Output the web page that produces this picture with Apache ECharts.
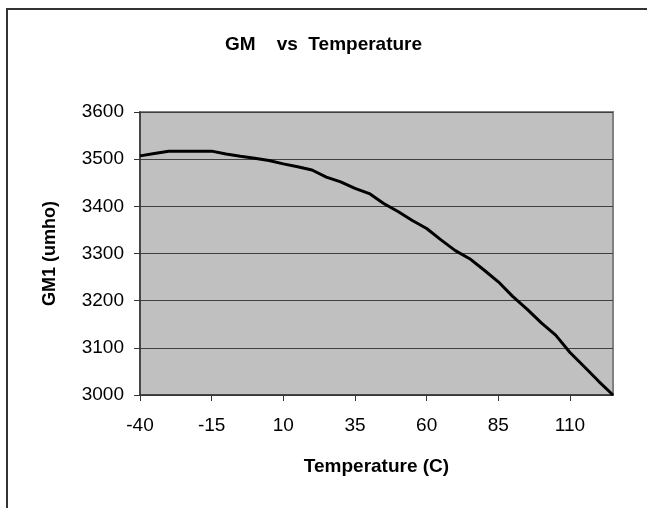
<!DOCTYPE html>
<html>
<head>
<meta charset="utf-8">
<script src="https://cdn.jsdelivr.net/npm/echarts@6/dist/echarts.min.js"></script>
<style>
  html, body { margin: 0; padding: 0; background: #fff; }
  #chart { width: 647px; height: 508px; }
</style>
</head>
<body>
<div id="chart"></div>
<script>
// temperature (C) and GM1 (umho)
var temps = [-40, -35, -30, -25, -20, -15, -10, -5, 0, 5, 10, 15, 20, 25, 30, 35, 40,
             45, 50, 55, 60, 65, 70, 75, 80, 85, 90, 95, 100, 105, 110, 115, 120, 125];
var gm = [3507, 3512, 3517, 3517, 3517, 3517, 3511, 3506, 3502, 3497, 3490, 3484, 3477,
          3462, 3452, 3438, 3427, 3406, 3389, 3370, 3353, 3329, 3306, 3289, 3265, 3240,
          3209, 3182, 3153, 3127, 3090, 3060, 3029, 3000];
var xTicks = [-40, -15, 10, 35, 60, 85, 110];

var font = 'Liberation Sans, Arial, sans-serif';
var myChart = echarts.init(document.getElementById('chart'));

var option = {
    backgroundColor: '#fff',
    animation: false,
    title: {
        text: 'GM    vs  Temperature',
        left: 'center',
        top: 30,
        textStyle: { fontFamily: font, fontSize: 19, fontWeight: 'bold', color: '#000' }
    },
    graphic: [{
        type: 'rect',
        shape: { x: 7, y: 9, width: 700, height: 600 },
        style: { fill: 'none', stroke: '#333', lineWidth: 2 }
    }],
    grid: {
        left: 140, right: 34, top: 112, bottom: 113,
        show: true,
        backgroundColor: '#c0c0c0',
        borderColor: '#808080',
        borderWidth: 2
    },
    xAxis: {
        type: 'value',
        min: -40,
        max: 125,
        name: 'Temperature (C)',
        nameLocation: 'middle',
        nameGap: 62,
        nameTextStyle: { fontFamily: font, fontSize: 19, fontWeight: 'bold', color: '#000' },
        axisLine: { onZero: false, lineStyle: { color: '#333', width: 1.5 } },
        axisTick: { show: true, length: 6, customValues: xTicks, lineStyle: { color: '#333' } },
        axisLabel: { customValues: xTicks, margin: 21, fontFamily: font, fontSize: 19, color: '#000' },
        splitLine: { show: false }
    },
    yAxis: {
        type: 'value',
        min: 3000,
        max: 3600,
        interval: 100,
        name: 'GM1 (umho)',
        nameLocation: 'middle',
        nameGap: 81,
        nameTextStyle: { fontFamily: font, fontSize: 18, fontWeight: 'bold', color: '#000' },
        axisLine: { show: true, onZero: false, lineStyle: { color: '#333', width: 1.5 } },
        axisTick: { show: true, length: 6, lineStyle: { color: '#333' } },
        axisLabel: {
            margin: 16, fontFamily: font, fontSize: 19, color: '#000',
            formatter: function (v) { return String(v); }
        },
        splitLine: { show: true, lineStyle: { color: '#404040', width: 1 } }
    },
    series: [{
        type: 'line',
        data: temps.map(function (t, i) { return [t, gm[i]]; }),
        showSymbol: false,
        lineStyle: { color: '#000', width: 3 }
    }]
};
myChart.setOption(option);
</script>
</body>
</html>
